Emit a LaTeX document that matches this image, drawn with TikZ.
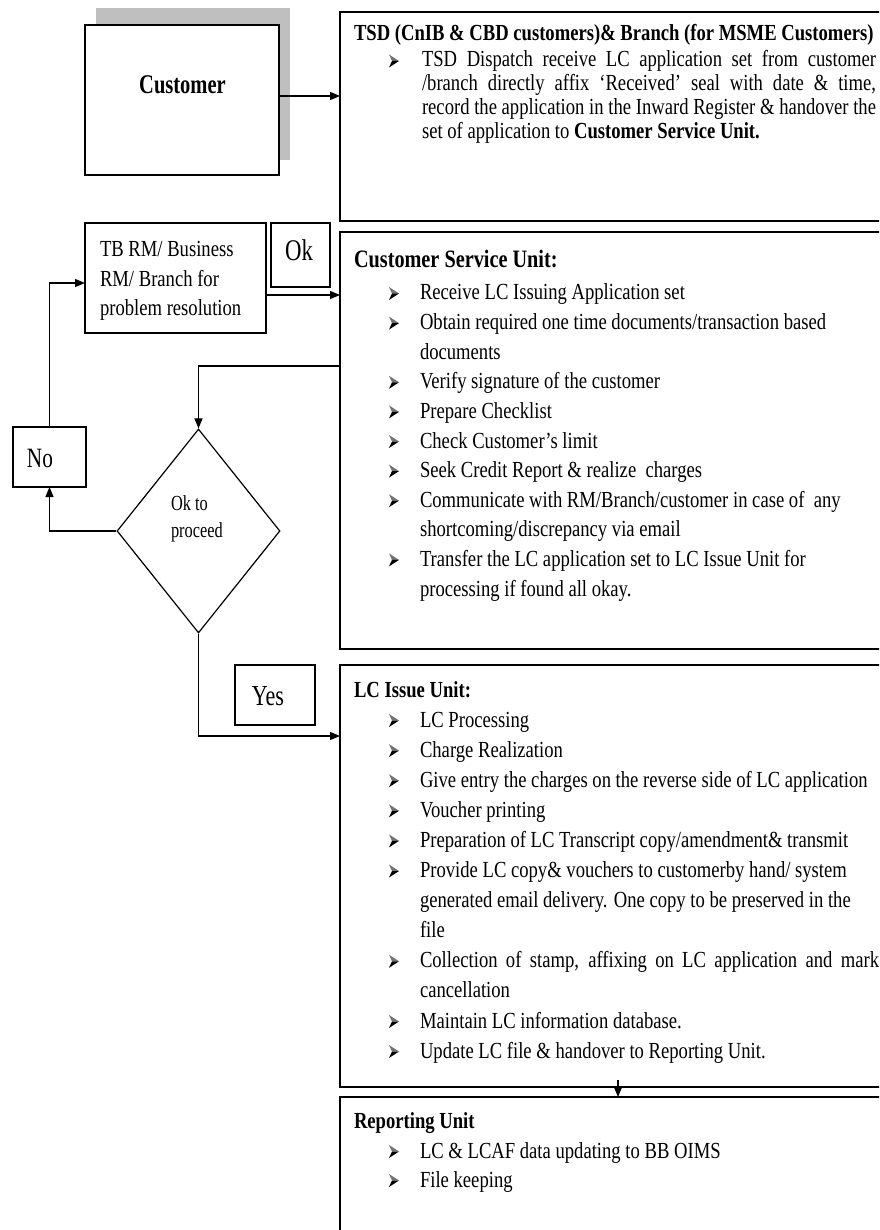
\documentclass[tikz,border=0pt]{standalone}
\usepackage{fontspec}
\usetikzlibrary{arrows.meta,shapes.geometric}
\newfontfamily\tnr[FakeStretch=0.81]{Liberation Serif}
\newfontfamily\tnrl[FakeStretch=0.76]{Liberation Serif}
\newcommand\fbody{\tnr\fontsize{23}{27}\selectfont}
\newcommand\fbold{\tnr\bfseries\fontsize{23}{27}\selectfont}
\newcommand\fbig{\tnr\bfseries\fontsize{25}{29}\selectfont}
\newcommand\fcust{\tnrl\bfseries\fontsize{27}{30}\selectfont}
\newcommand\fok{\tnrl\fontsize{30}{32}\selectfont}
\newcommand\fno{\tnrl\fontsize{28}{30}\selectfont}
\newcommand\fyes{\tnrl\fontsize{29}{30}\selectfont}
\newcommand\fsmall{\tnrl\fontsize{21.5}{24}\selectfont}
\begin{document}
\begin{tikzpicture}[x=1pt,y=-1pt,
  box/.style={draw, line width=1.2pt, inner sep=0pt, outer sep=0pt, anchor=north west, fill=white},
  conn/.style={line width=1.1pt, -{Triangle[length=10pt,width=8pt]}},
  txt/.style={inner sep=0pt, outer sep=0pt, anchor=base west, font=\fbody},
  ttl/.style={inner sep=0pt, outer sep=0pt, anchor=base west, font=\fbold},
  lbl/.style={inner sep=0pt, outer sep=0pt, anchor=base},
  bul/.pic={\fill[black!55] (0,-6.5) -- (10,0) -- (3,0) -- cycle;
            \fill[black] (3,0) -- (10,0) -- (0,6.5) -- cycle;}]
\useasboundingbox (0,0) rectangle (879,1230);
\clip (0,0) rectangle (879,1230);
\fill[white] (0,0) rectangle (879,1230);

% boxes
\fill[black!25] (96,8) rectangle (290,160);
\node[box, minimum width=194pt, minimum height=150pt] (cust) at (85,25) {};
\node[box, minimum width=620pt, minimum height=209pt] (tsd) at (340,12) {};
\node[box, minimum width=181pt, minimum height=110pt] (tbrm) at (85,223) {};
\node[box, minimum width=59pt, minimum height=64pt] (ok) at (271,223) {};
\node[box, minimum width=620pt, minimum height=417pt] (csu) at (340,232) {};
\node[box, minimum width=73pt, minimum height=60pt] (no) at (13,427) {};
\node[draw, line width=1.2pt, diamond, inner sep=0pt, minimum width=163pt, minimum height=204pt] (dia) at (198.5,531) {};
\node[box, minimum width=80pt, minimum height=60pt] (yes) at (235,665) {};
\node[box, minimum width=620pt, minimum height=422pt] (lc) at (340,665) {};
\node[box, minimum width=620pt, minimum height=200pt] (rep) at (340,1097) {};

% small labels
\node[lbl, font=\fcust] (custl) at (182.5,94) {Customer};
\node[lbl, font=\fok] (okl) at (299,261) {Ok};
\node[lbl, font=\fno] (nol) at (40,467) {No};
\node[lbl, font=\fyes] (yesl) at (268,705) {Yes};
\node[txt] (tb1) at (100,257) {TB RM/ Business};
\node[txt] (tb2) at (100,287) {RM/ Branch for};
\node[txt] (tb3) at (100,315) {problem resolution};
\node[txt, font=\fsmall] (dl1) at (171,510) {Ok to};
\node[txt, font=\fsmall] (dl2) at (171,537) {proceed};

% TSD text
\node[ttl] (tsdt) at (354,41) {TSD (CnIB \& CBD customers)\& Branch (for MSME Customers)};
\pic at (389,61) {bul};
\node[txt] (tsd1) at (422,67) {\makebox[454pt][s]{TSD Dispatch receive LC application set from customer}};
\node[txt] (tsd2) at (422,91) {\makebox[454pt][s]{/branch directly affix ‘Received’ seal with date \& time,}};
\node[txt] (tsd3) at (422,115) {\makebox[454pt][s]{record the application in the Inward Register \& handover the}};
\node[txt] (tsd4) at (422,139) {set of application to \textbf{Customer Service Unit.}};

% CSU text
\node[ttl, font=\fbig] (csut) at (354,268) {Customer Service Unit:};
\foreach \yy/\bb/\lbltext [count=\i] in {
  300/1/{Receive LC Issuing Application set},
  329.6/1/{Obtain required one time documents/transaction based},
  359.2/0/{documents},
  388.8/1/{Verify signature of the customer},
  418.4/1/{Prepare Checklist},
  448/1/{Check Customer’s limit},
  477.6/1/{Seek Credit Report \& realize\ \ charges},
  507.2/1/{Communicate with RM/Branch/customer in case of\ \ any},
  536.8/0/{shortcoming/discrepancy via email},
  566.4/1/{Transfer the LC application set to LC Issue Unit for},
  596/0/{processing if found all okay.}}
{\node[txt] (csu\i) at (420,\yy) {\lbltext};
 \ifnum\bb=1 \pic at (389,\yy-6.5) {bul};\fi}

% LC Issue text
\node[ttl] (lct) at (354,697) {LC Issue Unit:};
\foreach \yy/\bb/\lbltext [count=\i] in {
  727/1/{LC Processing},
  757.1/1/{Charge Realization},
  787.2/1/{Give entry the charges on the reverse side of LC application},
  817.3/1/{Voucher printing},
  847.4/1/{Preparation of LC Transcript copy/amendment\& transmit},
  877.5/1/{Provide LC copy\& vouchers to customerby hand/ system},
  907.6/0/{generated email delivery. One copy to be preserved in the},
  937.7/0/{file},
  967.8/1/{\makebox[459pt][s]{Collection of stamp, affixing on LC application and mark}},
  997.9/0/{cancellation},
  1028/1/{Maintain LC information database.},
  1058/1/{Update LC file \& handover to Reporting Unit.}}
{\node[txt] (lc\i) at (420,\yy) {\lbltext};
 \ifnum\bb=1 \pic at (389,\yy-6.5) {bul};\fi}

% Reporting text
\node[ttl] (rept) at (354,1128) {Reporting Unit};
\pic at (389,1151.5) {bul};
\node[txt] (rep1) at (420,1158) {LC \& LCAF data updating to BB OIMS};
\pic at (389,1180.5) {bul};
\node[txt] (rep2) at (420,1187) {File keeping};

% connectors
\coordinate (rp) at (618,1080);
\draw[conn] (cust.east |- 0,96) -- (tsd.west |- 0,96);
\draw[conn] (tbrm.east |- 0,295) -- (csu.west |- 0,295);
\draw[conn] (csu.west |- 0,366) -| (dia.north);
\draw[conn] (dia.west) -| (no.south);
\draw[conn] (no.north) |- (tbrm.west |- 0,283);
\draw[conn] (dia.south) |- (lc.west |- 0,736);
\draw[conn] (rp) -- (rp |- rep.north);
\end{tikzpicture}
\end{document}
